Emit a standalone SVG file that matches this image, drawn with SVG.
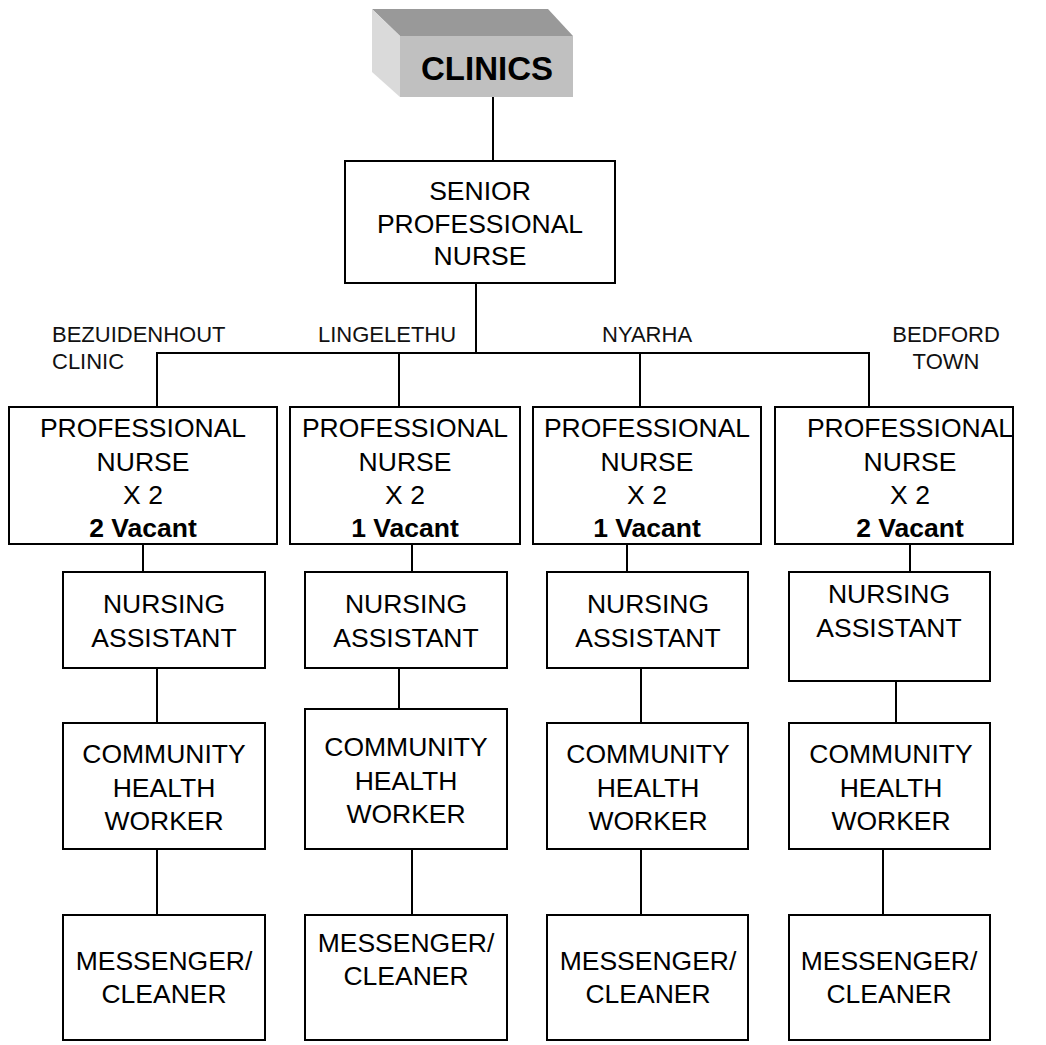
<svg xmlns="http://www.w3.org/2000/svg" width="1046" height="1045" viewBox="0 0 1046 1045">
<style>
.box{fill:#fff;stroke:#000;stroke-width:2}
.t{font-family:"Liberation Sans",Arial,sans-serif;font-size:26.5px;fill:#000;text-anchor:middle}
.b{font-weight:bold}
.lbl{font-family:"Liberation Sans",Arial,sans-serif;font-size:22px;fill:#111}
.c{stroke:#000;stroke-width:2;fill:none}
</style>
<rect width="1046" height="1045" fill="#fff"/>
<g id="connectors">
<line class="c" x1="493" y1="97" x2="493" y2="161"/>
<line class="c" x1="476" y1="283" x2="476" y2="353"/>
<polyline class="c" points="157,407 157,353 869,353 869,407"/>
<line class="c" x1="399" y1="353" x2="399" y2="407"/>
<line class="c" x1="640" y1="353" x2="640" y2="407"/>
<line class="c" x1="143" y1="544" x2="143" y2="572"/>
<line class="c" x1="412" y1="544" x2="412" y2="572"/>
<line class="c" x1="627" y1="544" x2="627" y2="572"/>
<line class="c" x1="910" y1="544" x2="910" y2="572"/>
<line class="c" x1="157" y1="668" x2="157" y2="723"/>
<line class="c" x1="399" y1="668" x2="399" y2="709"/>
<line class="c" x1="641" y1="668" x2="641" y2="723"/>
<line class="c" x1="896" y1="681" x2="896" y2="723"/>
<line class="c" x1="157" y1="849" x2="157" y2="915"/>
<line class="c" x1="412" y1="849" x2="412" y2="915"/>
<line class="c" x1="641" y1="849" x2="641" y2="915"/>
<line class="c" x1="883" y1="849" x2="883" y2="915"/>
</g>
<g id="clinics">
<polygon points="372,9 548,9 573,36 400,36" fill="#999"/>
<polygon points="372,9 400,36 400,97 372,72" fill="#dadada"/>
<rect x="400" y="36" width="173" height="61" fill="#c0c0c0"/>
<text class="t b" x="487" y="80" style="font-size:33px">CLINICS</text>
</g>
<g id="senior">
<rect class="box" x="345" y="161" width="270" height="122"/>
<text class="t" x="480" y="200">SENIOR</text>
<text class="t" x="480" y="233">PROFESSIONAL</text>
<text class="t" x="480" y="265">NURSE</text>
</g>
<g id="labels">
<text class="lbl" x="52" y="342">BEZUIDENHOUT</text>
<text class="lbl" x="52" y="369">CLINIC</text>
<text class="lbl" x="318" y="342">LINGELETHU</text>
<text class="lbl" x="602" y="342">NYARHA</text>
<text class="lbl" x="946" y="342" text-anchor="middle">BEDFORD</text>
<text class="lbl" x="946" y="369" text-anchor="middle">TOWN</text>
</g>
<g id="pn1">
<rect class="box" x="9" y="407" width="268" height="137"/>
<text class="t" x="143" y="437">PROFESSIONAL</text>
<text class="t" x="143" y="471">NURSE</text>
<text class="t" x="143" y="504">X 2</text>
<text class="t b" x="143" y="537">2 Vacant</text>
</g>
<g id="pn2">
<rect class="box" x="290" y="407" width="230" height="137"/>
<text class="t" x="405" y="437">PROFESSIONAL</text>
<text class="t" x="405" y="471">NURSE</text>
<text class="t" x="405" y="504">X 2</text>
<text class="t b" x="405" y="537">1 Vacant</text>
</g>
<g id="pn3">
<rect class="box" x="533" y="407" width="228" height="137"/>
<text class="t" x="647" y="437">PROFESSIONAL</text>
<text class="t" x="647" y="471">NURSE</text>
<text class="t" x="647" y="504">X 2</text>
<text class="t b" x="647" y="537">1 Vacant</text>
</g>
<g id="pn4">
<rect class="box" x="775" y="407" width="238" height="137"/>
<text class="t" x="910" y="437">PROFESSIONAL</text>
<text class="t" x="910" y="471">NURSE</text>
<text class="t" x="910" y="504">X 2</text>
<text class="t b" x="910" y="537">2 Vacant</text>
</g>
<g id="na1">
<rect class="box" x="63" y="572" width="202" height="96"/>
<text class="t" x="164" y="613">NURSING</text>
<text class="t" x="164" y="647">ASSISTANT</text>
</g>
<g id="na2">
<rect class="box" x="305" y="572" width="202" height="96"/>
<text class="t" x="406" y="613">NURSING</text>
<text class="t" x="406" y="647">ASSISTANT</text>
</g>
<g id="na3">
<rect class="box" x="547" y="572" width="201" height="96"/>
<text class="t" x="648" y="613">NURSING</text>
<text class="t" x="648" y="647">ASSISTANT</text>
</g>
<g id="na4">
<rect class="box" x="789" y="572" width="201" height="109"/>
<text class="t" x="889" y="603">NURSING</text>
<text class="t" x="889" y="637">ASSISTANT</text>
</g>
<g id="chw1">
<rect class="box" x="63" y="723" width="202" height="126"/>
<text class="t" x="164" y="763">COMMUNITY</text>
<text class="t" x="164" y="797">HEALTH</text>
<text class="t" x="164" y="830">WORKER</text>
</g>
<g id="chw2">
<rect class="box" x="305" y="709" width="202" height="140"/>
<text class="t" x="406" y="756">COMMUNITY</text>
<text class="t" x="406" y="790">HEALTH</text>
<text class="t" x="406" y="823">WORKER</text>
</g>
<g id="chw3">
<rect class="box" x="547" y="723" width="201" height="126"/>
<text class="t" x="648" y="763">COMMUNITY</text>
<text class="t" x="648" y="797">HEALTH</text>
<text class="t" x="648" y="830">WORKER</text>
</g>
<g id="chw4">
<rect class="box" x="789" y="723" width="201" height="126"/>
<text class="t" x="891" y="763">COMMUNITY</text>
<text class="t" x="891" y="797">HEALTH</text>
<text class="t" x="891" y="830">WORKER</text>
</g>
<g id="mc1">
<rect class="box" x="63" y="915" width="202" height="125"/>
<text class="t" x="164" y="970">MESSENGER/</text>
<text class="t" x="164" y="1003">CLEANER</text>
</g>
<g id="mc2">
<rect class="box" x="305" y="915" width="202" height="125"/>
<text class="t" x="406" y="952">MESSENGER/</text>
<text class="t" x="406" y="985">CLEANER</text>
</g>
<g id="mc3">
<rect class="box" x="547" y="915" width="201" height="125"/>
<text class="t" x="648" y="970">MESSENGER/</text>
<text class="t" x="648" y="1003">CLEANER</text>
</g>
<g id="mc4">
<rect class="box" x="789" y="915" width="201" height="125"/>
<text class="t" x="889" y="970">MESSENGER/</text>
<text class="t" x="889" y="1003">CLEANER</text>
</g>
</svg>
